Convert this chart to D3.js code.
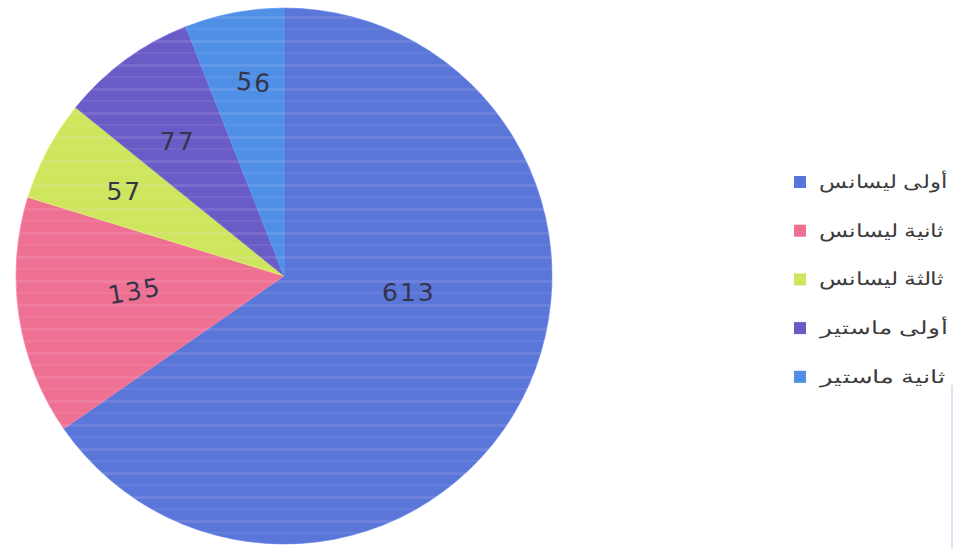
<!DOCTYPE html>
<html>
<head>
<meta charset="utf-8">
<script src="https://cdn.jsdelivr.net/npm/d3@7"></script>
<style>
  html, body { margin: 0; padding: 0; background: #ffffff; }
  svg { display: block; }
</style>
</head>
<body>
<svg id="chart" width="954" height="548"></svg>
<script>
// Student counts by study level
const categories = ["أولى ليسانس", "ثانية ليسانس", "ثالثة ليسانس", "أولى ماستير", "ثانية ماستير"];
const values = [613, 135, 57, 77, 56];
const colors = ["#5a76d8", "#ee7193", "#cde65e", "#6a5cc6", "#4f8fe6"];

// Where each handwritten number sits inside its slice
const labelRadius = [0.47, 0.56, 0.675, 0.64, 0.73];
const labelAngleShift = [-20, 3, 0, -2, 2];   // degrees
const labelTilt = [0, -10, 0, 0, 5];

const W = 954, H = 548;
const cx = 284, cy = 276, R = 268;

const svg = d3.select("#chart");

const data = categories.map((c, i) => ({ name: c, value: values[i], color: colors[i], i }));

const pie = d3.pie().value(d => d.value).sort(null);
const arcs = pie(data);
const arc = d3.arc().innerRadius(0).outerRadius(R);

// Faint horizontal banding over the disc
const defs = svg.append("defs");
const pat = defs.append("pattern")
  .attr("id", "stripes").attr("patternUnits", "userSpaceOnUse")
  .attr("width", 954).attr("height", 24);
pat.append("rect").attr("y", 4).attr("width", 954).attr("height", 3).attr("fill", "#f2d6ff").attr("opacity", 0.12);
pat.append("rect").attr("y", 16).attr("width", 954).attr("height", 2).attr("fill", "#ffffff").attr("opacity", 0.06);

const g = svg.append("g").attr("transform", `translate(${cx},${cy})`);

g.selectAll("path.slice")
  .data(arcs)
  .join("path")
  .attr("class", "slice")
  .attr("d", arc)
  .attr("fill", d => d.data.color)
  .attr("stroke", d => d3.color(d.data.color).brighter(0.3))
  .attr("stroke-width", 0.6);

g.append("circle").attr("r", R).attr("fill", "url(#stripes)");

// Value labels
g.selectAll("text.val")
  .data(arcs)
  .join("text")
  .attr("class", "val")
  .attr("transform", d => {
    const i = d.data.i;
    const a = (d.startAngle + d.endAngle) / 2 + labelAngleShift[i] * Math.PI / 180;
    const r = R * labelRadius[i];
    const x = Math.sin(a) * r, y = -Math.cos(a) * r;
    return `translate(${x},${y}) rotate(${labelTilt[i]})`;
  })
  .attr("text-anchor", "middle")
  .attr("dominant-baseline", "central")
  .attr("font-family", "'DejaVu Sans', sans-serif")
  .attr("font-size", 25)
  .attr("fill", "#34344a")
  .attr("letter-spacing", 2)
  .text(d => d.data.value);

// Legend
const legendTextWidth = 124;
const legend = svg.append("g").attr("transform", "translate(794,182)");
const row = legend.selectAll("g.item")
  .data(data)
  .join("g")
  .attr("class", "item")
  .attr("transform", (d, i) => `translate(0,${i * 48.7})`);

row.append("rect")
  .attr("x", 0).attr("y", -6)
  .attr("width", 12).attr("height", 12)
  .attr("fill", d => d.color);

row.append("text")
  .attr("font-family", "'Liberation Sans', Arial, sans-serif")
  .attr("font-size", 18)
  .attr("fill", "#3c3c3c")
  .attr("y", 6)
  .attr("x", 0)
  .text(d => d.name)
  .each(function () {
    // wide, stretched lettering
    const b = this.getBBox();
    const k = legendTextWidth / b.width;
    d3.select(this).attr("transform", `translate(${25 - b.x * k},0) scale(${k},1)`);
  });

// Faint page edge on the right
svg.append("line")
  .attr("x1", 952).attr("x2", 952).attr("y1", 385).attr("y2", 548)
  .attr("stroke", "#d8d4ee").attr("stroke-width", 1.5);
</script>
</body>
</html>
